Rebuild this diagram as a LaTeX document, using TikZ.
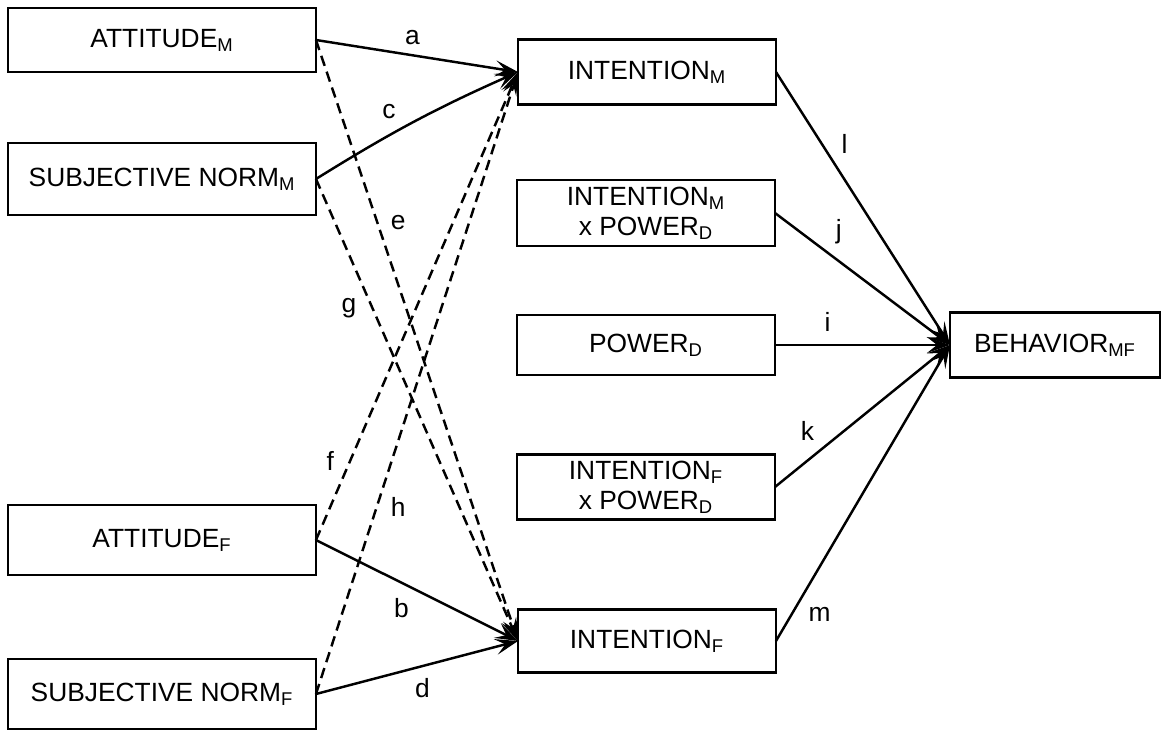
\documentclass[tikz,border=0pt]{standalone}
\usepackage{fontspec}
\setmainfont{Liberation Sans}
\usetikzlibrary{arrows.meta}

\newcommand{\sub}[1]{\textsubscript{#1}}

\tikzset{
  box/.style={draw, line width=1.5pt, rectangle, align=center, inner sep=2pt,
    outer sep=0pt, font=\fontsize{15}{17}\selectfont},
  lbox/.style={box, minimum width=6.16cm, minimum height=1.36cm},
  rbox/.style={box, minimum width=5.16cm, minimum height=1.3cm},
  link/.style={line width=1.4pt, -{Stealth[length=4.6mm, width=3.2mm, inset=2mm]}},
  dlink/.style={link, dash pattern=on 6pt off 3.5pt},
  lab/.style={font=\fontsize{15}{18}\selectfont, inner sep=4pt}
}

\begin{document}
\begin{tikzpicture}[x=0.02cm, y=-0.02cm, auto]
  \useasboundingbox (0,0) rectangle (1164,732);

  % predictors
  \node[lbox, minimum height=1.28cm] (attm) at (162, 40) {ATTITUDE\sub{M}};
  \node[lbox, minimum height=1.44cm] (normm) at (162, 179) {SUBJECTIVE NORM\sub{M}};
  \node[lbox, minimum height=1.4cm] (attf) at (162, 540) {ATTITUDE\sub{F}};
  \node[lbox, minimum height=1.4cm] (normf) at (162, 694) {SUBJECTIVE NORM\sub{F}};

  % middle column
  \node[rbox] (intm) at (647, 72) {INTENTION\sub{M}};
  \node[rbox, minimum height=1.32cm] (intmp) at (646, 213) {INTENTION\sub{M}\\x POWER\sub{D}};
  \node[rbox, minimum height=1.2cm] (pow) at (646, 345) {POWER\sub{D}};
  \node[rbox] (intfp) at (646, 487) {INTENTION\sub{F}\\x POWER\sub{D}};
  \node[rbox, minimum height=1.26cm] (intf) at (647, 641) {INTENTION\sub{F}};

  \node[box, minimum width=4.2cm, minimum height=1.3cm] (beh) at (1055, 345) {BEHAVIOR\sub{MF}};

  % paths to intentions
  \draw[link] (attm.east) to node[lab, pos=0.4]{a} (intm.west);
  \draw[link] (normm.east) to[bend left=4] node[lab, pos=0.44]{c} (intm.west);
  \draw[link] (attf.east) to node[lab, swap, pos=0.5]{b} (intf.west);
  \draw[link] (normf.east) to node[lab, swap, pos=0.45]{d} (intf.west);

  \draw[dlink] (attm.east) to node[lab, pos=0.33]{e} (intf.west);
  \draw[dlink] (normm.east) to node[lab, swap, pos=0.24]{g} (intf.west);
  \draw[dlink] (attf.east) to node[lab, pos=0.13]{f} (intm.west);
  \draw[dlink] (normf.east) to node[lab, swap, pos=0.33]{h} (intm.west);

  % paths to behavior
  \draw[link] (intm.east) to node[lab, pos=0.33]{l} (beh.west);
  \draw[link] (intmp.east) to node[lab, pos=0.3]{j} (beh.west);
  \draw[link] (pow.east) to node[lab, pos=0.3, inner sep=7pt]{i} (beh.west);
  \draw[link] (intfp.east) to node[lab, pos=0.27]{k} (beh.west);
  \draw[link] (intf.east) to node[lab, swap, pos=0.14]{m} (beh.west);
\end{tikzpicture}
\end{document}
